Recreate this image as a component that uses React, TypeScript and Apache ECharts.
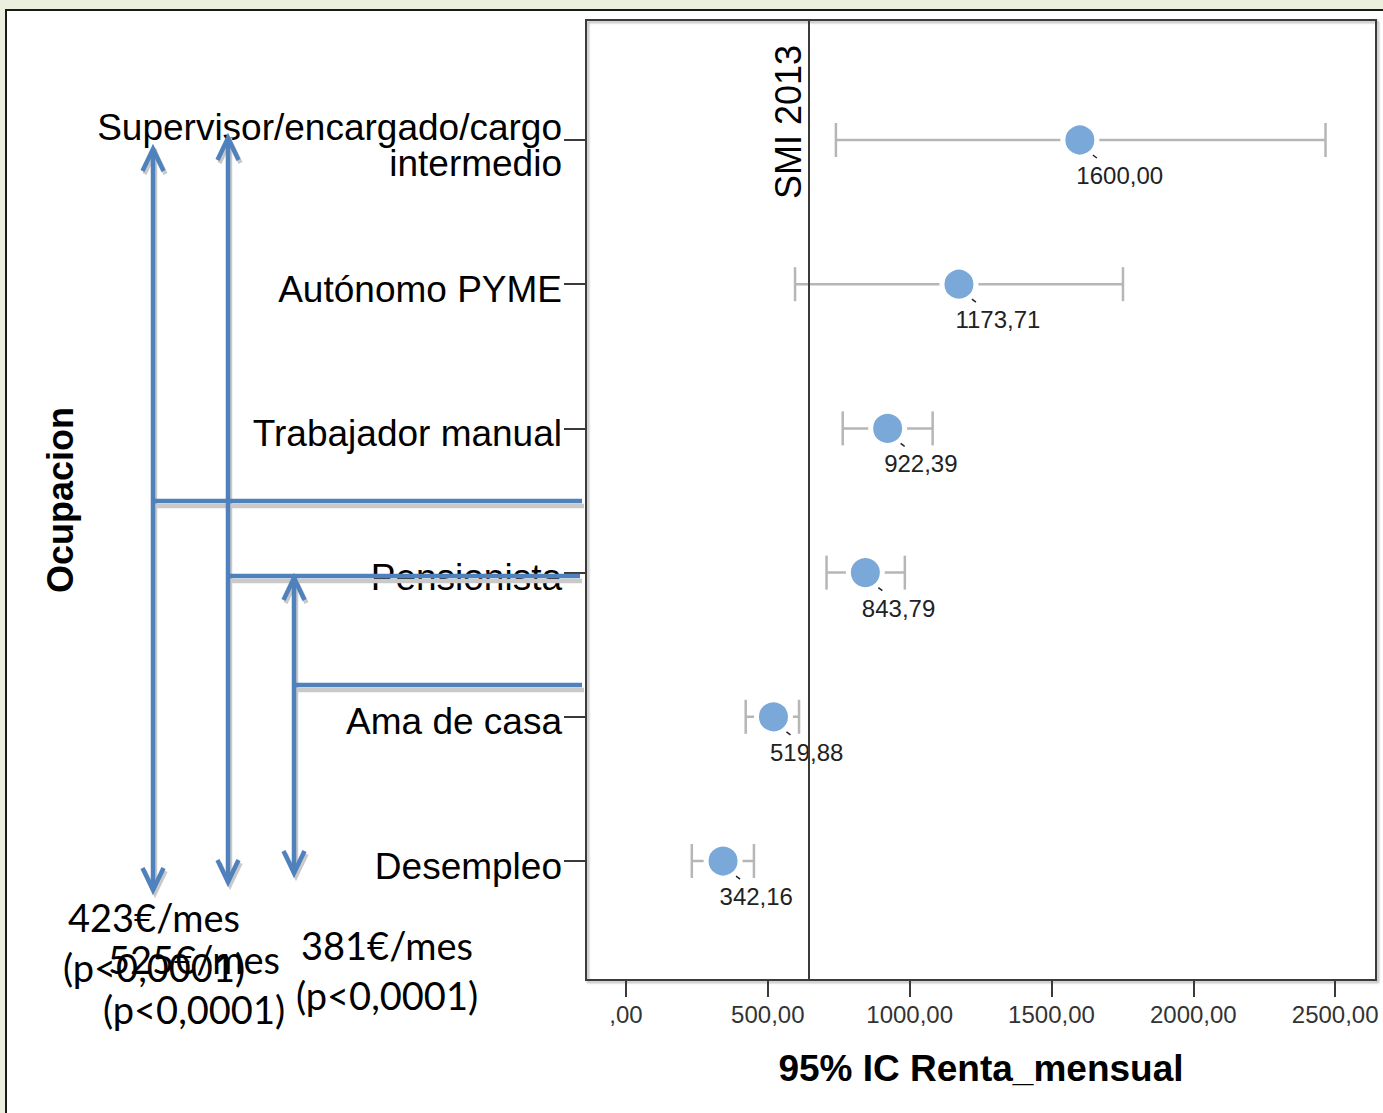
import { useEffect, useRef } from "react";
import * as echarts from "echarts";

// Occupation categories, bottom (index 0) to top (index 5)
const categories = [
  "Desempleo",
  "Ama de casa",
  "Pensionista",
  "Trabajador manual",
  "Autónomo PYME",
  "Supervisor/encargado/cargo\nintermedio",
];
const means = [342.16, 519.88, 843.79, 922.39, 1173.71, 1600.0];
const ciLow = [232, 422, 707, 764, 596, 740];
const ciHigh = [451, 610, 983, 1081, 1752, 2466];
const xTicks = [0, 500, 1000, 1500, 2000, 2500];
const yTicks = [0, 1, 2, 3, 4, 5];
const smi = 645.3;

// hand-drawn annotations on the left (slide overlay)
const notes = [
  { lines: ["423€/mes", "(p<0,0001)"], x: 154, y: 917 },
  { lines: ["525€/mes", "(p<0,0001)"], x: 194, y: 959 },
  { lines: ["381€/mes", "(p<0,0001)"], x: 387, y: 945 },
];

const FONT = '"Liberation Sans", Arial, sans-serif';
const BLUE = "#4f81bd";
const SHADOW = "#c9c9c9";
// category labels sit slightly below their ticks in the original
const LABEL_SHIFT = 0.035;

const fmt = (v: number) => (v === 0 ? ",00" : v.toFixed(2).replace(".", ","));

export default function App() {
  const ref = useRef<HTMLDivElement>(null);

  useEffect(() => {
    document.body.style.margin = "0";
    if (!ref.current) return;
    const chart = echarts.init(ref.current, undefined, { renderer: "svg" });

    const lineSt = (c: string) => ({ stroke: c, lineWidth: 4.5, fill: "none" });
    const seg = (x1: number, y1: number, x2: number, y2: number, z: number, c: string) => ({
      type: "line",
      shape: { x1, y1, x2, y2 },
      style: lineSt(c),
      z,
    });
    // line with a soft offset shadow beneath it
    const shaded = (x1: number, y1: number, x2: number, y2: number, dx: number, dy: number) => [
      seg(x1 + dx, y1 + dy, x2 + dx, y2 + dy, 99, SHADOW),
      seg(x1, y1, x2, y2, 100, BLUE),
    ];
    const head = (x: number, y: number, dir: 1 | -1) => {
      const pts = [[x - 10.5, y + dir * 22], [x, y], [x + 10.5, y + dir * 22]];
      return [
        { type: "polyline", shape: { points: pts.map((p) => [p[0] + 2, p[1] + 3]) }, style: lineSt(SHADOW), z: 99 },
        { type: "polyline", shape: { points: pts }, style: lineSt(BLUE), z: 100 },
      ];
    };
    const arrow = (x: number, top: number, bottom: number) => [
      ...shaded(x, top, x, bottom, 2, 0),
      ...head(x, top, 1),
      ...head(x, bottom, -1),
    ];

    const noteTexts: any[] = [];
    notes.forEach((n) =>
      n.lines.forEach((t, i) =>
        noteTexts.push({
          type: "text",
          x: n.x,
          y: n.y + i * 50,
          z: 101,
          style: {
            text: t,
            fontFamily: "Lato, 'Open Sans', sans-serif",
            fontSize: 38,
            fill: "#000",
            align: "center",
            verticalAlign: "middle",
          },
        })
      )
    );

    chart.setOption({
      animation: false,
      grid: {
        left: 586,
        top: 20,
        right: 7,
        bottom: 133,
        show: true,
        borderColor: "#3a3a3a",
        borderWidth: 2,
        shadowColor: "rgba(0,0,0,0.3)",
        shadowBlur: 2,
        shadowOffsetX: 2,
        shadowOffsetY: 2,
      },
      xAxis: {
        type: "value",
        min: -141,
        max: 2644,
        name: "95% IC Renta_mensual",
        nameLocation: "middle",
        nameGap: 70,
        nameTextStyle: { fontFamily: FONT, fontSize: 37, fontWeight: "bold", color: "#000" },
        axisLine: { show: false, onZero: false },
        splitLine: { show: false },
        axisTick: { show: true, length: 17, customValues: xTicks, lineStyle: { color: "#3a3a3a", width: 2 } },
        axisLabel: {
          customValues: xTicks,
          formatter: (v: number) => fmt(v),
          fontFamily: FONT,
          fontSize: 24,
          color: "#333",
          margin: 22,
        },
      },
      yAxis: {
        type: "value",
        min: -0.825,
        max: 5.832,
        name: "Ocupacion",
        nameLocation: "middle",
        nameGap: 508,
        nameTextStyle: { fontFamily: FONT, fontSize: 36, fontWeight: "bold", color: "#000" },
        axisLine: { show: false, onZero: false },
        splitLine: { show: false },
        axisTick: {
          show: true,
          length: 22,
          customValues: yTicks,
          lineStyle: { color: "#3a3a3a", width: 2 },
        },
        axisLabel: {
          customValues: yTicks.map((v) => v - LABEL_SHIFT),
          formatter: (v: number) => categories[Math.round(v)] ?? "",
          fontFamily: FONT,
          fontSize: 37,
          lineHeight: 36,
          color: "#000",
          margin: 24,
        },
      },
      series: [
        {
          type: "custom",
          z: 2,
          silent: true,
          data: categories.map((_, i) => [ciLow[i], ciHigh[i], i]),
          renderItem: (_p: any, api: any) => {
            const a = api.coord([api.value(0), api.value(2)]);
            const b = api.coord([api.value(1), api.value(2)]);
            const h = 17;
            const st = { stroke: "#b6b6b6", lineWidth: 2.5 };
            return {
              type: "group",
              children: [
                { type: "line", shape: { x1: a[0], y1: a[1], x2: b[0], y2: b[1] }, style: st },
                { type: "line", shape: { x1: a[0], y1: a[1] - h, x2: a[0], y2: a[1] + h }, style: st },
                { type: "line", shape: { x1: b[0], y1: b[1] - h, x2: b[0], y2: b[1] + h }, style: st },
              ],
            };
          },
        },
        {
          type: "scatter",
          z: 3,
          symbol: "circle",
          symbolSize: 34,
          data: means.map((m, i) => [m, i]),
          itemStyle: { color: "#7aa8d8", borderColor: "#fff", borderWidth: 5, opacity: 1 },
          label: {
            show: true,
            position: [16, 55],
            align: "left",
            verticalAlign: "middle",
            formatter: (p: any) => fmt(p.value[0]),
            fontFamily: FONT,
            fontSize: 24,
            color: "#222",
          },
          markLine: {
            silent: true,
            symbol: ["none", "none"],
            lineStyle: { color: "#3a3a3a", width: 2, type: "solid" },
            label: {
              show: true,
              formatter: "SMI 2013",
              position: "insideEndTop",
              distance: [25, 3],
              fontFamily: FONT,
              fontSize: 36,
              color: "#000",
            },
            data: [{ xAxis: smi }],
          },
        },
        {
          // small label leader ticks next to each point
          type: "custom",
          z: 4,
          silent: true,
          data: means.map((m, i) => [m, i]),
          renderItem: (_p: any, api: any) => {
            const c = api.coord([api.value(0), api.value(1)]);
            return {
              type: "line",
              shape: { x1: c[0] + 13, y1: c[1] + 15, x2: c[0] + 17, y2: c[1] + 18 },
              style: { stroke: "#222", lineWidth: 1.5 },
            };
          },
        },
      ],
      graphic: [
        ...arrow(153, 149, 890),
        ...arrow(228, 138, 882),
        ...arrow(294, 578, 873),
        ...shaded(151, 501, 582, 501, 2, 5),
        ...shaded(226, 576, 580, 576, 2, 5),
        ...shaded(292, 685, 582, 685, 2, 5),
        ...noteTexts,
      ],
    });

    return () => chart.dispose();
  }, []);

  return (
    <div style={{ position: "relative", width: 1383, height: 1113, background: "#eaf0dd", overflow: "hidden" }}>
      <div
        style={{
          position: "absolute",
          left: 5,
          top: 9,
          width: 1400,
          height: 1200,
          background: "#fff",
          border: "2px solid #1a1a1a",
        }}
      />
      <div ref={ref} style={{ position: "absolute", left: 0, top: 0, width: 1383, height: 1113 }} />
    </div>
  );
}
